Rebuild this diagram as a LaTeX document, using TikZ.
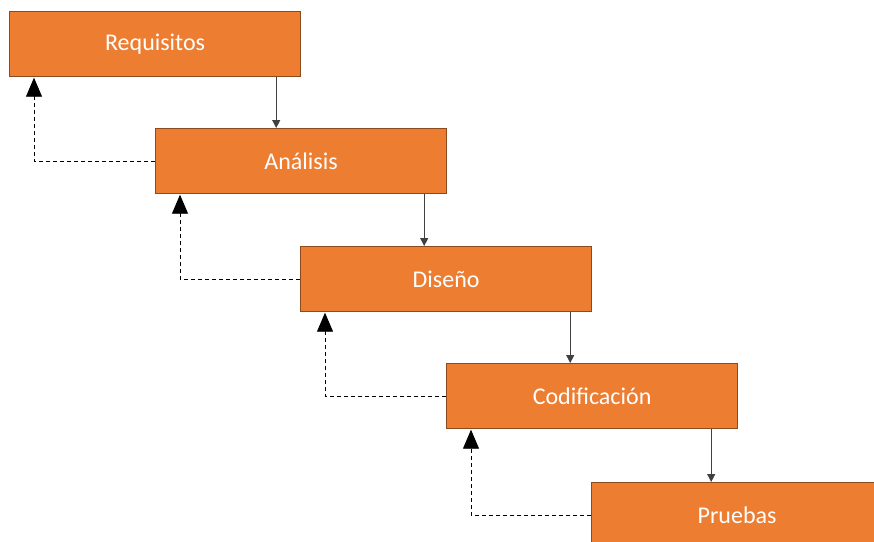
\documentclass[tikz,border=0pt]{standalone}
\usepackage{fontspec}
\setmainfont{Carlito}
\usetikzlibrary{arrows.meta,calc}
\definecolor{stageorange}{HTML}{ED7D31}
\definecolor{stageedge}{HTML}{8C4A1E}
\definecolor{flowgray}{HTML}{404040}
\tikzset{
  stagebox/.style={draw=stageedge, line width=1.2pt, fill=stageorange, text=white,
    rectangle, anchor=north west, minimum width=291pt, minimum height=65pt,
    inner sep=0pt, font=\fontsize{24}{28}\selectfont},
  flow/.style={draw=flowgray, line width=0.9pt, -{Triangle[width=8pt,length=8pt]}},
  feedback/.style={draw=black, line width=0.9pt, dash pattern=on 4pt off 3pt,
    -{Triangle[width=16pt,length=19pt]}, shorten >=0.5pt}
}
\begin{document}
\begin{tikzpicture}[x=1pt,y=-1pt]
\useasboundingbox (0,0) rectangle (874,541);
\begin{scope}
\clip (0,0) rectangle (874,541);
\node[stagebox] (req) at (9,11)   {Requisitos};
\node[stagebox] (ana) at (155,128) {Análisis};
\node[stagebox] (dis) at (300,246) {Diseño};
\node[stagebox] (cod) at (446,363) {Codificación};
\node[stagebox] (pru) at (591,482) {Pruebas};

% start points of the forward flow, near each box's lower right corner
\coordinate (f1) at ($(req.south east)+(-25,0)$);
\coordinate (f2) at ($(ana.south east)+(-23,0)$);
\coordinate (f3) at ($(dis.south east)+(-22,0)$);
\coordinate (f4) at ($(cod.south east)+(-27,0)$);

% forward flow between stages
\draw[flow] (f1) -- (f1 |- ana.north);
\draw[flow] (f2) -- (f2 |- dis.north);
\draw[flow] (f3) -- (f3 |- cod.north);
\draw[flow] (f4) -- (f4 |- pru.north);

% feedback to the previous stage
\draw[feedback] (ana.west) -| ($(req.south west)+(25,0)$);
\draw[feedback] (dis.west) -| ($(ana.south west)+(25,0)$);
\draw[feedback] (cod.west) -| ($(dis.south west)+(25,0)$);
\draw[feedback] (pru.west) -| ($(cod.south west)+(25,0)$);
\end{scope}
\end{tikzpicture}
\end{document}
